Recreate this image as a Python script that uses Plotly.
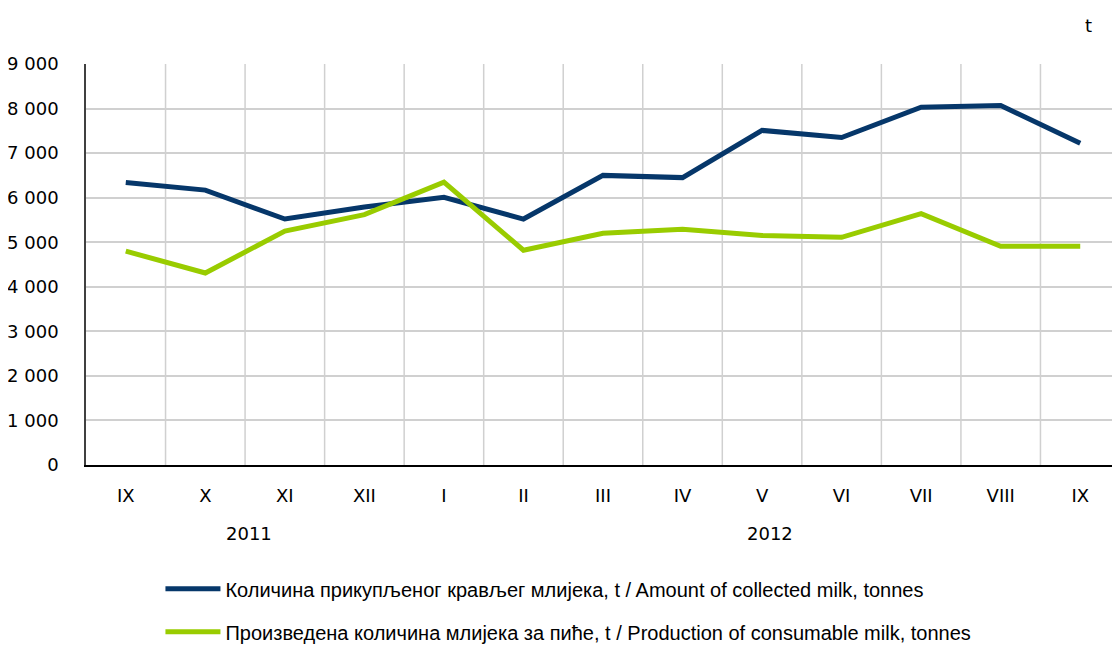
import plotly.graph_objects as go

months = ["IX", "X", "XI", "XII", "I", "II", "III", "IV", "V", "VI", "VII", "VIII", "IX"]
years = ["2011", "2012"]
collected = [6340, 6170, 5520, 5790, 6010, 5520, 6500, 6450, 7510, 7350, 8030, 8070, 7220]
consumable = [4800, 4310, 5250, 5620, 6350, 4820, 5200, 5290, 5150, 5110, 5640, 4910, 4910]
name_collected = "Количина прикупљеног крављег млијека, t / Amount of collected milk, tonnes"
name_consumable = "Произведена количина млијека за пиће, t / Production of consumable milk, tonnes"

xidx = list(range(len(months)))

fig = go.Figure()
fig.add_trace(go.Scatter(x=xidx, y=collected, mode="lines", name=name_collected,
                         legendgroup="a",
                         line=dict(color="#06376a", width=5)))
fig.add_trace(go.Scatter(x=xidx, y=consumable, mode="lines", name=name_consumable,
                         legendgroup="b",
                         line=dict(color="#99cc00", width=5)))

tickfont = dict(family="DejaVu Sans", size=18, color="#000000")

# page body has an 8px margin: size the figure so the plot lands where the reference has it
fig.update_layout(
    width=1112, height=637,
    margin=dict(l=78, r=0, t=56, b=180, autoexpand=False),
    plot_bgcolor="white", paper_bgcolor="white",
    separators=", ",
    showlegend=True,
    legend=dict(x=0.072, y=-0.26, xanchor="left", yanchor="top",
                font=dict(family="Liberation Sans", size=20, color="#000"),
                tracegroupgap=14, itemwidth=55, bgcolor="rgba(0,0,0,0)"),
    xaxis=dict(range=[-0.5, 12.5], tickmode="array", tickvals=xidx, ticktext=months,
               showgrid=False, zeroline=False, showline=True, linecolor="#000", linewidth=1.5,
               ticks="", tickfont=tickfont, ticklabelstandoff=14, tickangle=0,
               automargin=False),
    yaxis=dict(range=[0, 9000], dtick=1000, tickformat=",d", showgrid=True,
               gridcolor="#d0d0d0", gridwidth=1.5, zeroline=False, showline=True,
               linecolor="#404040", linewidth=1.5, ticks="", tickfont=tickfont,
               ticklabelstandoff=22, automargin=False),
)

# vertical gridlines at category boundaries
for k in range(1, len(months) + 1):
    fig.add_shape(type="line", xref="x", yref="paper", x0=k - 0.5, x1=k - 0.5, y0=0, y1=1,
                  line=dict(color="#d0d0d0", width=1.5), layer="below")

# year labels
fig.add_annotation(x=1.55, y=-0.172, xref="x", yref="paper", yanchor="middle",
                   text=years[0], showarrow=False, font=tickfont)
fig.add_annotation(x=8.1, y=-0.172, xref="x", yref="paper", yanchor="middle",
                   text=years[1], showarrow=False, font=tickfont)
# unit label
fig.add_annotation(x=0.975, y=1.097, xref="paper", yref="paper", yanchor="middle",
                   text="t", showarrow=False, font=tickfont)

fig.write_html("out.html")
